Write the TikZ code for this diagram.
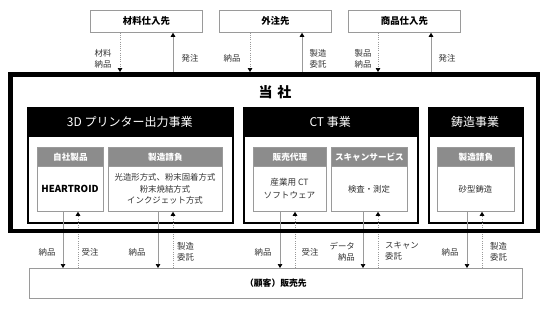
\documentclass[tikz,border=0pt]{standalone}
\usepackage{fontspec}
\setmainfont{Noto Sans CJK JP}
\usetikzlibrary{arrows.meta}
\definecolor{lgray}{HTML}{9A9A9A}
\definecolor{hgray}{HTML}{8C8C8C}
\definecolor{txt}{HTML}{333333}
\pgfdeclarelayer{front}
\pgfsetlayers{main,front}
\begin{document}
\begin{tikzpicture}[x=1pt,y=-1pt,
  topbox/.style={draw=lgray, line width=0.8pt, minimum width=112pt, minimum height=22pt, inner sep=0pt, anchor=north west, text=black, font=\fontsize{9.4}{11}\selectfont\bfseries},
  mainbox/.style={draw=black, line width=4.5pt, minimum width=527.5pt, minimum height=156.5pt, inner sep=0pt, anchor=north west},
  segbox/.style={draw=black, line width=1.6pt, fill=white, inner sep=0pt, anchor=north west},
  seghead/.style={fill=black, text=white, inner sep=0pt, anchor=north west, minimum height=30pt, font=\fontsize{12}{14}\selectfont},
  subbox/.style={draw=lgray, line width=0.8pt, fill=white, inner sep=0pt, anchor=north west, minimum height=64pt},
  subhead/.style={fill=hgray, draw=lgray, line width=0.8pt, text=white, inner sep=0pt, anchor=north west, minimum height=19pt, font=\fontsize{8.6}{10}\selectfont\bfseries},
  body/.style={text=txt, align=center, inner sep=0pt, font=\fontsize{8.4}{11.5}\selectfont},
  lbl/.style={text=txt, inner sep=0pt, font=\fontsize{8.4}{11}\selectfont},
  conn/.style={draw=lgray, line width=0.7pt, -{Triangle[width=4.6pt,length=4pt,color=black]}},
  dconn/.style={conn, dash pattern=on 1pt off 1.2pt},
  custbox/.style={draw=lgray, line width=0.8pt, minimum width=493pt, minimum height=30pt, inner sep=0pt, anchor=north west, font=\fontsize{8.8}{10}\selectfont\bfseries}
]
\useasboundingbox (0,0) rectangle (545,309);

% main company box (front layer so connectors pass under its border)
\begin{pgfonlayer}{front}
\node[mainbox] (main) at (8,72) {};
\end{pgfonlayer}
\node[font=\fontsize{14}{16}\selectfont\bfseries] (company) at (275,92) {当\hspace{0.35em}社};

% suppliers
\node[topbox] (t1) at (90,10) {材料仕入先};
\node[topbox] (t2) at (219,10) {外注先};
\node[topbox] (t3) at (348,10) {商品仕入先};

% customer
\node[custbox] (cust) at (29,268) {（顧客）販売先};

% segments
\node[segbox, minimum width=205pt, minimum height=115pt] (s1) at (27,107) {};
\node[seghead, minimum width=205pt] (h1) at (27,107) {3D プリンター出力事業};
\node[segbox, minimum width=174pt, minimum height=115pt] (s2) at (243,107) {};
\node[seghead, minimum width=174pt] (h2) at (243,107) {CT 事業};
\node[segbox, minimum width=94pt, minimum height=115pt] (s3) at (428,107) {};
\node[seghead, minimum width=94pt] (h3) at (428,107) {鋳造事業};

% sub boxes
\node[subbox, minimum width=66pt] (a1) at (37,147) {};
\node[subhead, minimum width=66pt] (ah1) at (37,147) {自社製品};
\node[body, font=\fontsize{9.6}{11}\selectfont\bfseries, text=black] (ab1) at (70,188.5) {HEARTROID};

\node[subbox, minimum width=114pt] (a2) at (108,147) {};
\node[subhead, minimum width=114pt] (ah2) at (108,147) {製造請負};
\node[body] (ab2) at (165,189) {光造形方式、粉末固着方式\\粉末焼結方式\\インクジェット方式};

\node[subbox, minimum width=73pt] (b1) at (253,147) {};
\node[subhead, minimum width=73pt] (bh1) at (253,147) {販売代理};
\node[body, font=\fontsize{8.6}{13}\selectfont] (bb1) at (289.5,188.5) {産業用 CT\\ソフトウェア};

\node[subbox, minimum width=76pt] (b2) at (331,147) {};
\node[subhead, minimum width=76pt] (bh2) at (331,147) {スキャンサービス};
\node[body] (bb2) at (369,189) {検査・測定};

\node[subbox, minimum width=77pt] (c1) at (437,147) {};
\node[subhead, minimum width=77pt] (ch1) at (437,147) {製造請負};
\node[body] (cb1) at (475.5,189) {砂型鋳造};

% x positions of connectors
\coordinate (x1) at (120,0);  \coordinate (x2) at (173,0);
\coordinate (x3) at (250,0);  \coordinate (x4) at (302,0);
\coordinate (x5) at (378,0);  \coordinate (x6) at (431,0);
\coordinate (y1) at (63,0);   \coordinate (y2) at (78,0);
\coordinate (y3) at (158,0);  \coordinate (y4) at (173,0);
\coordinate (y5) at (280,0);  \coordinate (y6) at (295,0);
\coordinate (y7) at (363,0);  \coordinate (y8) at (378,0);
\coordinate (y9) at (467,0);  \coordinate (y10) at (482,0);

% top connectors
\draw[dconn] (t1.south -| x1) -- (main.north -| x1);
\draw[conn]  (main.north -| x2) -- (t1.south -| x2);
\draw[dconn] (t2.south -| x3) -- (main.north -| x3);
\draw[conn]  (main.north -| x4) -- (t2.south -| x4);
\draw[dconn] (t3.south -| x5) -- (main.north -| x5);
\draw[conn]  (main.north -| x6) -- (t3.south -| x6);

% bottom connectors
\draw[conn]  (a1.south -| y1) -- (cust.north -| y1);
\draw[dconn] (cust.north -| y2) -- (a1.south -| y2);
\draw[conn]  (a2.south -| y3) -- (cust.north -| y3);
\draw[dconn] (cust.north -| y4) -- (a2.south -| y4);
\draw[conn]  (b1.south -| y5) -- (cust.north -| y5);
\draw[dconn] (cust.north -| y6) -- (b1.south -| y6);
\draw[conn]  (b2.south -| y7) -- (cust.north -| y7);
\draw[dconn] (cust.north -| y8) -- (b2.south -| y8);
\draw[conn]  (c1.south -| y9) -- (cust.north -| y9);
\draw[dconn] (cust.north -| y10) -- (c1.south -| y10);

% top labels
\node[lbl, align=center] (l1) at (103,58.5) {材料\\納品};
\node[lbl] (l2) at (190,58) {発注};
\node[lbl] (l3) at (232,58) {納品};
\node[lbl, align=center] (l4) at (318,58.5) {製造\\委託};
\node[lbl, align=center] (l5) at (363,58.5) {製品\\納品};
\node[lbl] (l6) at (447,58) {発注};

% bottom labels
\node[lbl] (m1) at (47,252) {納品};
\node[lbl] (m2) at (90,252) {受注};
\node[lbl] (m3) at (137,252) {納品};
\node[lbl, align=left, anchor=west] (m4) at (177,251.5) {製造\\委託};
\node[lbl] (m5) at (263,252) {納品};
\node[lbl] (m6) at (310,252) {受注};
\node[lbl, align=right, anchor=east] (m7) at (355,251.5) {データ\\納品};
\node[lbl, align=left, anchor=west] (m8) at (385,251.5) {スキャン\\委託};
\node[lbl] (m9) at (450,252) {納品};
\node[lbl, align=left, anchor=west] (m10) at (490,251.5) {製造\\委託};
\end{tikzpicture}
\end{document}
